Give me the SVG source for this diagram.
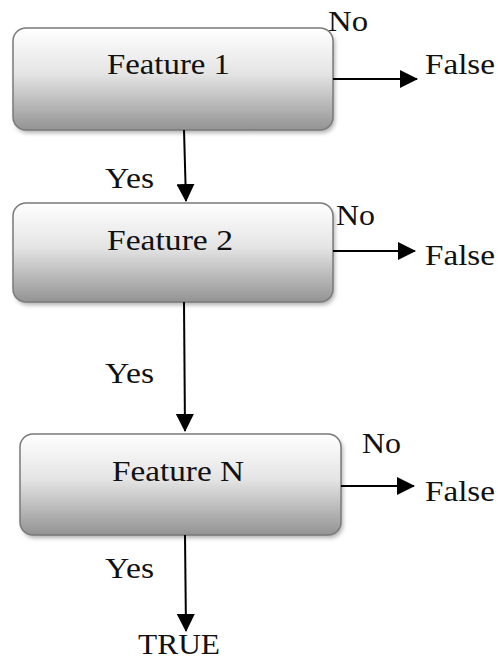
<svg xmlns="http://www.w3.org/2000/svg" width="498" height="660" viewBox="0 0 498 660">
<style>
.box{fill:url(#g);stroke:#7a7a7a;stroke-width:1.5}
.sh{fill:#b0b0b0;filter:url(#blur)}
.t{font-family:"Liberation Serif","Times New Roman","DejaVu Serif","Noto Serif",serif;font-size:30px;fill:#111}
.c{stroke:#000;stroke-width:2;fill:none;marker-end:url(#ah)}
</style>
<defs>
<linearGradient id="g" x1="0" y1="0" x2="0" y2="1">
<stop offset="0" stop-color="#ffffff"/>
<stop offset="0.45" stop-color="#e4e4e4"/>
<stop offset="1" stop-color="#939393"/>
</linearGradient>
<filter id="blur" x="-10%" y="-10%" width="120%" height="130%"><feGaussianBlur stdDeviation="2"/></filter>
<marker id="ah" markerWidth="18" markerHeight="18" viewBox="0 0 18 18" refX="17" refY="9" orient="auto" markerUnits="userSpaceOnUse">
<path d="M0,0 L18,9 L0,18 Z" fill="#000"/>
</marker>
</defs>
<g id="node-feature1">
<rect class="sh" x="15" y="31" width="320" height="102" rx="13"/>
<rect class="box" x="13" y="28" width="320" height="102" rx="13"/>
<text class="t" x="107" y="74" textLength="123" lengthAdjust="spacingAndGlyphs">Feature 1</text>
</g>
<g id="node-feature2">
<rect class="sh" x="15" y="206" width="320" height="99" rx="13"/>
<rect class="box" x="13" y="203" width="320" height="99" rx="13"/>
<text class="t" x="107" y="250" textLength="126" lengthAdjust="spacingAndGlyphs">Feature 2</text>
</g>
<g id="node-featureN">
<rect class="sh" x="22" y="437" width="321" height="101" rx="13"/>
<rect class="box" x="20" y="434" width="321" height="101" rx="13"/>
<text class="t" x="112" y="481" textLength="132" lengthAdjust="spacingAndGlyphs">Feature N</text>
</g>
<g id="connectors">
<line class="c" x1="333" y1="79" x2="417" y2="79"/>
<line class="c" x1="184" y1="130" x2="186" y2="201"/>
<line class="c" x1="333" y1="251" x2="415" y2="251"/>
<line class="c" x1="184" y1="302" x2="185" y2="431"/>
<line class="c" x1="341" y1="486" x2="414" y2="486"/>
<line class="c" x1="185" y1="535" x2="186" y2="631"/>
</g>
<g id="labels">
<text class="t" x="328" y="31" textLength="40" lengthAdjust="spacingAndGlyphs">No</text>
<text class="t" x="425" y="74" textLength="70" lengthAdjust="spacingAndGlyphs">False</text>
<text class="t" x="105" y="188" textLength="49" lengthAdjust="spacingAndGlyphs">Yes</text>
<text class="t" x="336" y="225" textLength="39" lengthAdjust="spacingAndGlyphs">No</text>
<text class="t" x="425" y="265" textLength="70" lengthAdjust="spacingAndGlyphs">False</text>
<text class="t" x="105" y="383" textLength="49" lengthAdjust="spacingAndGlyphs">Yes</text>
<text class="t" x="362" y="453" textLength="39" lengthAdjust="spacingAndGlyphs">No</text>
<text class="t" x="425" y="501" textLength="70" lengthAdjust="spacingAndGlyphs">False</text>
<text class="t" x="105" y="578" textLength="49" lengthAdjust="spacingAndGlyphs">Yes</text>
<text class="t" x="138" y="654" textLength="82" lengthAdjust="spacingAndGlyphs">TRUE</text>
</g>
</svg>
